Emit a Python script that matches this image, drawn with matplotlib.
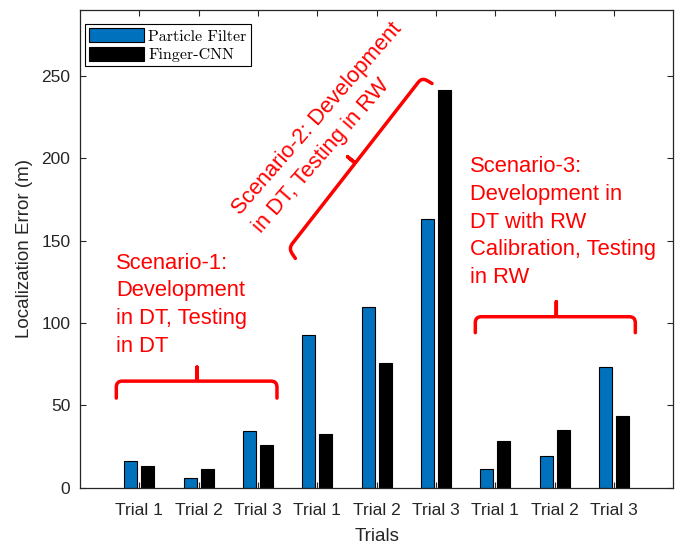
import matplotlib
matplotlib.use("Agg")
import matplotlib.pyplot as plt
import numpy as np
from matplotlib.path import Path
from matplotlib.patches import PathPatch

# ---- data ----
trial_labels = ["Trial 1", "Trial 2", "Trial 3",
                "Trial 1", "Trial 2", "Trial 3",
                "Trial 1", "Trial 2", "Trial 3"]
particle_filter = [16.5, 5.6, 34.7, 93.0, 109.5, 163.0, 11.5, 19.0, 73.5]
finger_cnn = [13.2, 11.5, 25.7, 32.5, 75.5, 241.7, 28.3, 34.8, 43.3]
series_names = ["Particle Filter", "Finger-CNN"]

plt.rcParams['font.family'] = ['Liberation Sans', 'DejaVu Sans']

fig = plt.figure(figsize=(6.85, 5.46), dpi=100)
ax = fig.add_axes([80/685, 1-487.7/546, 593.3/685, 477.7/546])

x = np.arange(1, len(trial_labels) + 1)
w = 0.22
off = 0.143
ax.bar(x - off, particle_filter, width=w, color="#0072BD", edgecolor="black",
       linewidth=0.8, label=series_names[0], zorder=2)
ax.bar(x + off, finger_cnn, width=w, color="black", edgecolor="black",
       linewidth=0.8, label=series_names[1], zorder=2)

ax.set_xlim(0, 10)
ax.set_ylim(0, 290)
ax.set_xticks(x)
ax.set_xticklabels(trial_labels)
ax.set_yticks([0, 50, 100, 150, 200, 250])
gray = "#262626"
ax.tick_params(axis='both', direction='in', length=4, width=0.8, colors=gray,
               labelsize=12.5, top=True, right=True)
ax.tick_params(axis='x', pad=11)
ax.tick_params(axis='y', pad=7)
for s in ax.spines.values():
    s.set_color(gray)
    s.set_linewidth(0.9)
ax.set_xlabel("Trials", fontsize=13.5, color=gray, labelpad=7)
ax.set_ylabel("Localization Error (m)", fontsize=13.5, color=gray, labelpad=6)

leg = ax.legend(loc='upper left', bbox_to_anchor=(0.0078, 0.970),
                borderaxespad=0, fancybox=False, framealpha=1,
                edgecolor='black', prop={'family': 'cmr10', 'size': 11.5},
                handlelength=3.44, handleheight=0.94, handletextpad=0.3,
                labelspacing=0.22, borderpad=0.25)
leg.get_frame().set_linewidth(0.8)

red = "#FF0000"
tk = dict(color=red, fontsize=15.8, linespacing=1.42, ha='left', va='baseline')
ax.text(0.612, 82.5, "Scenario-1:\nDevelopment\nin DT, Testing\nin DT", **tk)
ax.text(6.58, 124.2, "Scenario-3:\nDevelopment in\nDT with RW\nCalibration, Testing\nin RW", **tk)
ax.text(2.972, 156.8, "Scenario-2: Development\nin DT, Testing in RW",
        rotation=49, rotation_mode='anchor', **tk)


def bracket(pts, radii):
    """Draw a brace-like polyline with rounded corners (radii in pixels)."""
    P = ax.transData.transform(np.asarray(pts, float))
    verts = [P[0]]
    codes = [Path.MOVETO]
    for i in range(1, len(P) - 1):
        a, b, c = P[i - 1], P[i], P[i + 1]
        d1 = a - b
        d2 = c - b
        l1, l2 = np.hypot(*d1), np.hypot(*d2)
        rr = min(radii[i - 1], l1 / 2, l2 / 2)
        if rr <= 0:
            verts.append(b)
            codes.append(Path.LINETO)
            continue
        p1 = b + d1 / l1 * rr
        p2 = b + d2 / l2 * rr
        verts += [p1, b, p2]
        codes += [Path.LINETO, Path.CURVE3, Path.CURVE3]
    verts.append(P[-1])
    codes.append(Path.LINETO)
    V = ax.transData.inverted().transform(np.array(verts))
    ax.add_patch(PathPatch(Path(V, codes), fill=False, edgecolor=red,
                           linewidth=2.5, joinstyle='round', capstyle='round',
                           zorder=3))


rad = [6, 1.5, 0, 1.5, 6]
bracket([(0.612, 54.4), (0.612, 64.7), (1.972, 64.7), (1.972, 73.2),
         (1.972, 64.7), (3.32, 64.7), (3.32, 54.4)], rad)
bracket([(6.663, 94.1), (6.663, 103.8), (8.028, 103.8), (8.028, 112.9),
         (8.028, 103.8), (9.36, 103.8), (9.36, 94.1)], rad)
bracket([(3.63, 139.2), (3.516, 145.3), (4.64, 197.1), (4.51, 200.9),
         (4.64, 197.1), (5.764, 249.0), (5.933, 245.4)], rad)

fig.savefig("out.png", dpi=100)
